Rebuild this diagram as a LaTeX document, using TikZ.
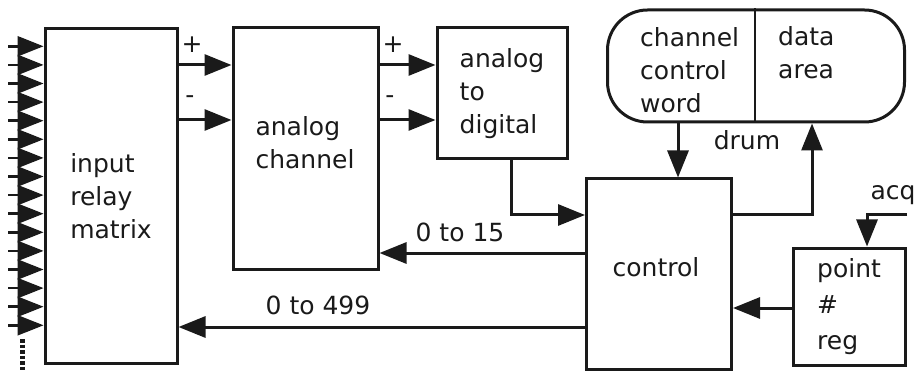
\documentclass[tikz,border=0pt]{standalone}
\usepackage{fontspec}
\setmainfont{DejaVu Sans}
\usetikzlibrary{arrows.meta,positioning,calc}
\definecolor{cK}{HTML}{1a1a1a}

\begin{document}
\begin{tikzpicture}[x=1pt,y=-1pt,
  blk/.style={draw=cK,line width=3pt,inner sep=0pt,align=left,text=cK,font=\fontsize{25}{33}\selectfont},
  txt/.style={align=left,inner sep=0pt,text=cK,font=\fontsize{25}{33}\selectfont},
  arr/.style={draw=cK,line width=3pt,-{Triangle[length=27pt,width=21pt]}}]
  \useasboundingbox (0,0) rectangle (917,371);
  % boxes
  \node[blk,minimum width=132pt,minimum height=334pt] (relay) at (111,196){input\\relay\\matrix};
  \node[blk,minimum width=145pt,minimum height=241pt] (chan) at (305.5,148.5){};
  \node[txt] (chanT) at (305,143){analog\\channel};
  \node[blk,minimum width=130pt,minimum height=131pt] (ad) at (502,93.5){analog\\to\\digital};
  \node[blk,rounded corners=40pt,minimum width=297pt,minimum height=112pt] (drum) at (756,66){};
  \draw[draw=cK,line width=1.2pt] (drum.north -| 755,0) -- (drum.south -| 755,0);
  \node[txt,anchor=west] (ccw) at (640,70){channel\\control\\word};
  \node[txt,anchor=west] (data) at (778,53){data\\area};
  \node[txt] (drumT) at (747,140){drum};
  \node[blk,minimum width=145pt,minimum height=190pt] (ctrl) at (659,274){};
  \node[txt] (ctrlT) at (656,267){control};
  \node[blk,minimum width=112pt,minimum height=117pt,font=\fontsize{25}{36}\selectfont] (reg) at (849,306.5){point\\\#\\reg};
  % relay inputs
  \foreach \i in {0,...,15}{
    \coordinate (in\i) at (8,{46.3+18.6*\i});
    \draw[draw=cK,line width=2.5pt,-{Triangle[length=26pt,width=20pt]}] (in\i) -- (relay.west |- in\i);
  }
  \coordinate (dots) at (22,339);
  \draw[draw=cK,line width=5pt,dash pattern=on 3.5pt off 2pt] (dots) -- ++(0,32);
  % connectors
  \draw[arr] (relay.east |- 0,65) -- (chan.west |- 0,65);
  \draw[arr] (relay.east |- 0,120) -- (chan.west |- 0,120);
  \draw[arr] (chan.east |- 0,65) -- (ad.west |- 0,65);
  \draw[arr] (chan.east |- 0,120) -- (ad.west |- 0,120);
  \node[txt] (pA) at (192,45){+};
  \node[txt] (mA) at (190,100){-};
  \node[txt] (pB) at (393,45){+};
  \node[txt] (mB) at (390,100){-};
  \draw[arr] (ad.south -| 511,0) |- (ctrl.west |- 0,215);
  \draw[arr] (drum.south -| 678,0) -- (ctrl.north -| 678,0);
  \draw[arr] (ctrl.east |- 0,215) -| (drum.south -| 812,0);
  \draw[arr] (ctrl.west |- 0,253) -- (chan.east |- 0,253);
  \node[txt] (lo) at (460,232){0 to 15};
  \draw[arr] (ctrl.west |- 0,327) -- (relay.east |- 0,327);
  \node[txt] (hi) at (318,305){0 to 499};
  \draw[arr] (reg.west |- 0,308) -- (ctrl.east |- 0,308);
  \coordinate (acq) at (907,215);
  \draw[arr] (acq) -| (reg.north -| 867,0);
  \node[txt] (acqT) at (893,195){acq};
\end{tikzpicture}
\end{document}
